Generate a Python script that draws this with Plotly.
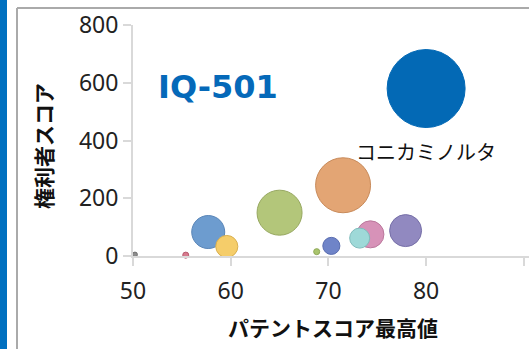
import plotly.graph_objects as go

# Data
names = ["gray", "red", "steel", "yellow", "green", "small_green", "slate", "orange",
         "pink", "teal", "purple", "コニカミノルタ"]
patent_max = [50.2, 55.4, 57.7, 59.6, 65.0, 68.8, 70.3, 71.5, 74.3, 73.2, 77.9, 80.0]
holder_score = [5, 3, 83, 33, 150, 15, 35, 245, 75, 62, 88, 580]
bubble_size = [4, 6, 179, 80, 333, 6, 48, 497, 120, 66, 168, 1000]
fill_colors = ["#8c8c8c", "#d77a8d", "#6d9ccf", "#f5cd6a", "#b3c67a", "#a9c46d",
               "#6f84c8", "#e3a574", "#d792b8", "#9ed9d8", "#9189c0", "#0369b5"]
line_colors = ["#707070", "#b85c70", "#5a86b8", "#d9b050", "#97a860", "#8ea855",
               "#5a6db0", "#c88a5a", "#bb789c", "#80bcbc", "#7770a8", "#0369b5"]

x_ticks = [50, 60, 70, 80, 90]
y_ticks = [0, 200, 400, 600, 800]

W, H = 529, 349
L, R, T, B = 133, 0, 25, 93
pw, ph = W - L - R, H - T - B

def px_x(p):
    return (p - L) / pw

def px_y(p):
    return (H - B - p) / ph

# largest bubble ~78 px across
sizeref = 2.0 * max(bubble_size) / 78 ** 2

fig = go.Figure()
fig.add_trace(go.Scatter(
    x=patent_max, y=holder_score, mode="markers",
    marker=dict(size=bubble_size, sizemode="area", sizeref=sizeref,
                color=fill_colors, opacity=1,
                line=dict(color=line_colors, width=1)),
    cliponaxis=False, hoverinfo="skip", showlegend=False,
))

tickfont = dict(family="Noto Sans", size=23, color="#222222")

fig.update_layout(
    width=W, height=H,
    margin=dict(l=L, r=R, t=T, b=B, autoexpand=False),
    paper_bgcolor="white", plot_bgcolor="white",
    xaxis=dict(range=[50, 90.53], tickvals=x_ticks, showgrid=False, zeroline=False,
               showline=True, linecolor="#d9d9d9", linewidth=2,
               ticks="outside", ticklen=8, tickcolor="#d9d9d9", tickwidth=2,
               ticklabelstandoff=5, tickfont=tickfont, automargin=False),
    yaxis=dict(range=[0, 800], tickvals=y_ticks, showgrid=False, zeroline=False,
               showline=True, linecolor="#d9d9d9", linewidth=2,
               ticks="outside", ticklen=8, tickcolor="#d9d9d9", tickwidth=2,
               tickfont=tickfont, automargin=False),
    shapes=[
        dict(type="rect", xref="paper", yref="paper", x0=px_x(0), x1=px_x(7),
             y0=px_y(H), y1=px_y(0), fillcolor="#0070c0", line=dict(width=0), layer="above"),
        dict(type="line", xref="paper", yref="paper", x0=px_x(17), x1=px_x(17),
             y0=px_y(H), y1=px_y(8), line=dict(color="#aaaaaa", width=2)),
        dict(type="line", xref="paper", yref="paper", x0=px_x(17), x1=px_x(W),
             y0=px_y(8), y1=px_y(8), line=dict(color="#aaaaaa", width=2)),
    ],
    annotations=[
        dict(text="<b>IQ-501</b>", xref="paper", yref="paper", x=px_x(218), y=px_y(87),
             xanchor="center", yanchor="middle", showarrow=False,
             font=dict(family="DejaVu Sans", size=32, color="#0569b9")),
        dict(text="コニカミノルタ", x=patent_max[-1], y=holder_score[-1], xref="x", yref="y",
             xanchor="center", yanchor="middle", yshift=-63, showarrow=False,
             font=dict(family="Noto Sans CJK JP", size=20, color="#111111")),
        dict(text="<b>権利者スコア</b>", xref="paper", yref="paper", x=px_x(43), y=px_y(146),
             xanchor="center", yanchor="middle", textangle=-90, showarrow=False,
             font=dict(family="Noto Sans CJK JP", size=21, color="#111111")),
        dict(text="<b>パテントスコア最高値</b>", xref="paper", yref="paper", x=px_x(333), y=px_y(327),
             xanchor="center", yanchor="middle", showarrow=False,
             font=dict(family="Noto Sans CJK JP", size=21, color="#111111")),
    ],
)

fig.write_html("out.html")
